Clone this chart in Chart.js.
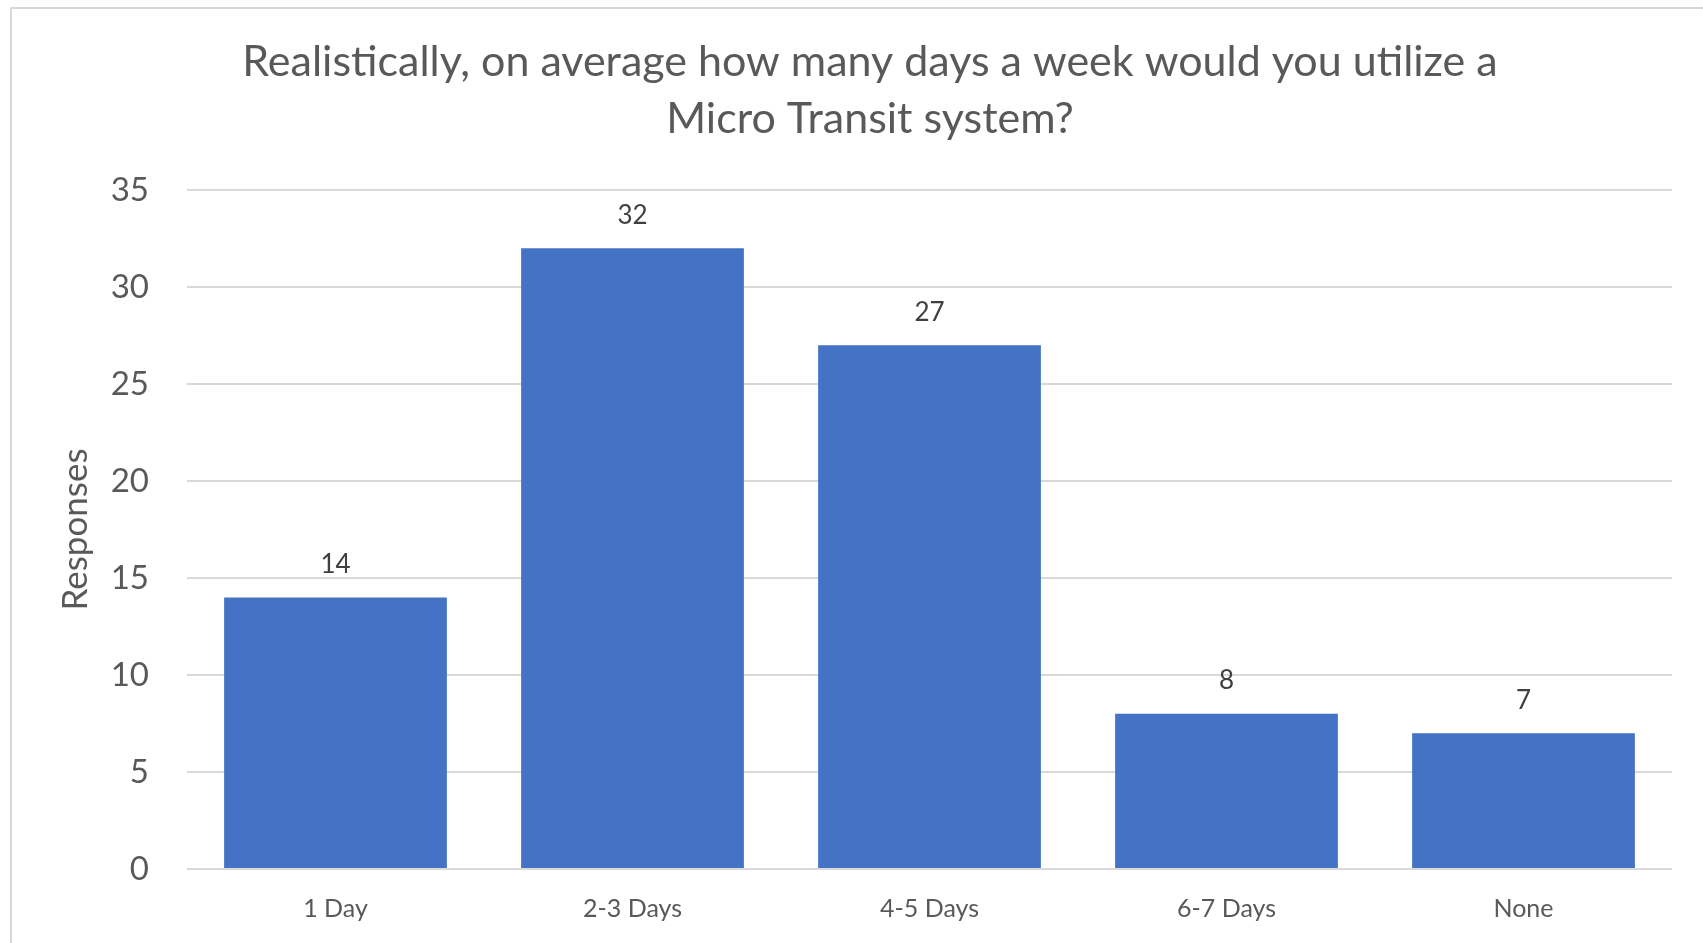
<!DOCTYPE html>
<html>
<head>
<meta charset="utf-8">
<script src="https://cdn.jsdelivr.net/npm/chart.js@4/dist/chart.umd.min.js"></script>
<style>
  html, body { margin: 0; padding: 0; background: #fff; overflow: hidden; }
  #frame {
    position: absolute; left: 10px; top: 7px;
    width: 1800px; height: 1000px;
    border: 2px solid #d9d9d9; pointer-events: none;
  }
  canvas { position: absolute; left: 0; top: 0; }
</style>
</head>
<body>
<canvas id="chart" width="1703" height="943"></canvas>
<div id="frame"></div>
<script>
// Данные
const categories = ['1 Day', '2-3 Days', '4-5 Days', '6-7 Days', 'None'];
const responses = [14, 32, 27, 8, 7];
const yTicks = [0, 5, 10, 15, 20, 25, 30, 35];
const titleLines = ['Realistically, on average how many days a week would you utilize a', 'Micro Transit system?'];

const textColor = '#595959';
const gridColor = '#d9d9d9';

// Подписи значений над столбцами
const valueLabels = {
    id: 'valueLabels',
    afterDatasetsDraw(chart) {
        const ctx = chart.ctx;
        const meta = chart.getDatasetMeta(0);
        ctx.save();
        ctx.font = '26px Lato';
        ctx.fillStyle = '#404040';
        ctx.textAlign = 'center';
        ctx.textBaseline = 'middle';
        meta.data.forEach(function(bar, i) {
            ctx.fillText(String(chart.data.datasets[0].data[i]), bar.x, bar.y - 33);
        });
        ctx.restore();
    }
};

new Chart(document.getElementById('chart').getContext('2d'), {
    type: 'bar',
    data: {
        labels: categories,
        datasets: [{
            data: responses,
            backgroundColor: '#4472C4',
            borderWidth: 0,
            barPercentage: 0.75,
            categoryPercentage: 1
        }]
    },
    options: {
        responsive: false,
        animation: false,
        layout: { padding: { left: 68, right: 31, top: 0, bottom: 0 } },
        plugins: {
            legend: { display: false },
            tooltip: { enabled: false },
            title: {
                display: true,
                text: titleLines,
                color: textColor,
                font: { family: 'Lato', size: 43, weight: 'normal', lineHeight: 1.3256 },
                padding: { top: 33.5, bottom: 42.5 }
            }
        },
        scales: {
            x: {
                grid: { display: false },
                border: { display: false },
                ticks: {
                    color: textColor,
                    font: { family: 'Lato', size: 25 },
                    padding: 17
                },
                afterFit(scale) {
                    scale.height = 74;
                    scale.paddingLeft = 0;
                    scale.paddingRight = 0;
                }
            },
            y: {
                min: 0,
                max: 35,
                afterBuildTicks(scale) {
                    scale.ticks = yTicks.map(v => ({ value: v }));
                },
                grid: { color: gridColor, lineWidth: 2, drawTicks: false },
                border: { display: false },
                ticks: {
                    color: textColor,
                    font: { family: 'Lato', size: 33 },
                    padding: 38
                },
                title: {
                    display: true,
                    text: 'Responses',
                    color: textColor,
                    font: { family: 'Lato', size: 35, lineHeight: 0.45 },
                    padding: 0
                },
                afterFit(scale) {
                    scale.width = 119;
                    scale.paddingTop = 0;
                    scale.paddingBottom = 0;
                }
            }
        }
    },
    plugins: [valueLabels]
});
</script>
</body>
</html>
